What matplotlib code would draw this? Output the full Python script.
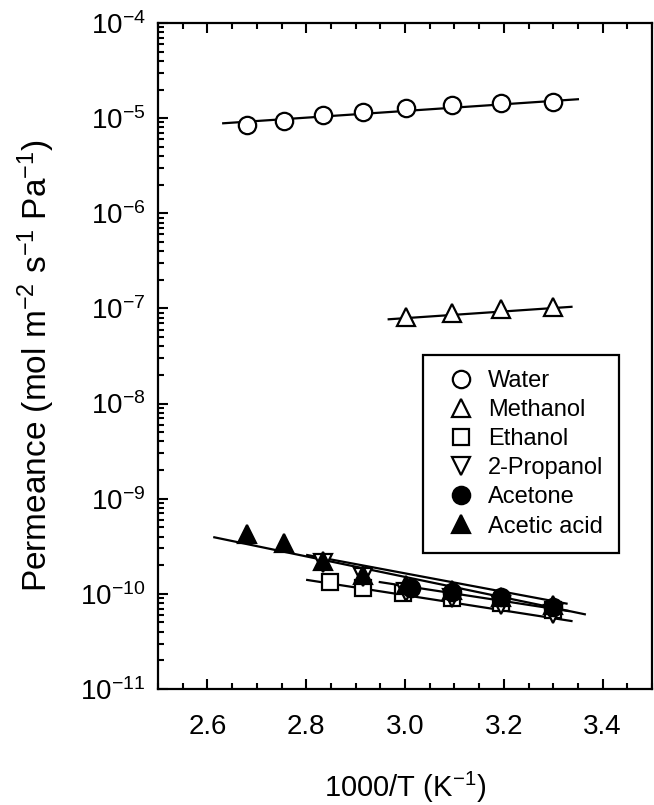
import matplotlib
matplotlib.use('Agg')
import matplotlib.pyplot as plt
import matplotlib.ticker as mticker
import numpy as np

plt.rcParams['font.family'] = ['Liberation Sans', 'DejaVu Sans']
plt.rcParams['mathtext.default'] = 'regular'
plt.rcParams['axes.unicode_minus'] = False

# dane (1000/T, permeancja)
x_water = [2.681, 2.755, 2.833, 2.915, 3.003, 3.096, 3.195, 3.300]
y_water = [8.5e-6, 9.4e-6, 1.08e-5, 1.17e-5, 1.27e-5, 1.37e-5, 1.45e-5, 1.49e-5]

x_meoh = [3.003, 3.096, 3.195, 3.300]
y_meoh = [8.2e-8, 8.9e-8, 9.8e-8, 1.04e-7]

x_etoh = [2.848, 2.915, 2.996, 3.096, 3.195, 3.300]
y_etoh = [1.32e-10, 1.14e-10, 1.01e-10, 9.0e-11, 8.0e-11, 6.8e-11]

x_ipa = [2.833, 2.915, 3.003, 3.096, 3.195, 3.300]
y_ipa = [2.11e-10, 1.50e-10, 1.04e-10, 9.0e-11, 7.6e-11, 6.1e-11]

x_acetone = [3.013, 3.096, 3.195, 3.300]
y_acetone = [1.14e-10, 1.05e-10, 9.3e-11, 7.3e-11]

x_acetic = [2.681, 2.755, 2.833, 2.915, 3.003, 3.096, 3.195, 3.300]
y_acetic = [4.28e-10, 3.40e-10, 2.21e-10, 1.58e-10, 1.24e-10, 1.10e-10, 9.27e-11, 7.64e-11]

# linie dopasowania (koncowe punkty)
fit_water_x, fit_water_y = [2.632, 3.350], [8.83e-6, 1.58e-5]
fit_meoh_x, fit_meoh_y = [2.967, 3.337], [7.69e-8, 1.04e-7]
fit_etoh_x, fit_etoh_y = [2.802, 3.337], [1.40e-10, 5.18e-11]
fit_ipa_x, fit_ipa_y = [2.802, 3.327], [2.56e-10, 7.9e-11]
fit_acetone_x, fit_acetone_y = [2.949, 3.331], [1.33e-10, 6.6e-11]
fit_acetic_x, fit_acetic_y = [2.614, 3.364], [3.93e-10, 6.1e-11]

W, H = 654, 805
fig = plt.figure(figsize=(W / 100, H / 100), dpi=100)
ax = fig.add_axes([158 / W, 1 - 689 / H, (652 - 158) / W, (689 - 23) / H])

lw = 1.6
for fx, fy in [(fit_water_x, fit_water_y), (fit_meoh_x, fit_meoh_y),
               (fit_etoh_x, fit_etoh_y), (fit_ipa_x, fit_ipa_y),
               (fit_acetone_x, fit_acetone_y), (fit_acetic_x, fit_acetic_y)]:
    ax.plot(fx, fy, color='black', linewidth=lw, zorder=2)

mk = dict(linestyle='none', markeredgecolor='black', markeredgewidth=1.6, zorder=3)
ax.plot(x_water, y_water, 'o', markersize=12.5, markerfacecolor='white', label='Water', **mk)
ax.plot(x_meoh, y_meoh, '^', markersize=12.5, markerfacecolor='white', label='Methanol', **mk)
ax.plot(x_etoh, y_etoh, 's', markersize=11, markerfacecolor='white', label='Ethanol', **mk)
ax.plot(x_ipa, y_ipa, 'v', markersize=12.5, markerfacecolor='white', label='2-Propanol', **mk)
ax.plot(x_acetone, y_acetone, 'o', markersize=12.5, markerfacecolor='black', label='Acetone', **mk)
ax.plot(x_acetic, y_acetic, '^', markersize=12.5, markerfacecolor='black', label='Acetic acid', **mk)

ax.set_yscale('log')
ax.set_ylim(1e-11, 1e-4)
ax.set_xlim(2.5, 3.5)
ax.set_xticks([2.6, 2.8, 3.0, 3.2, 3.4])
ax.xaxis.set_minor_locator(mticker.MultipleLocator(0.05))
ax.yaxis.set_major_locator(mticker.LogLocator(base=10, numticks=20))
ax.yaxis.set_minor_locator(mticker.LogLocator(base=10, subs=np.arange(2, 10), numticks=20))
ax.yaxis.set_minor_formatter(mticker.NullFormatter())

ax.tick_params(which='both', direction='in', top=True, right=False, width=1.5, labelsize=20)
ax.tick_params(which='major', length=7.5)
ax.tick_params(which='minor', length=4)
ax.tick_params(axis='x', pad=18)
ax.tick_params(axis='y', pad=9)
for s in ax.spines.values():
    s.set_linewidth(1.6)

ax.set_xlabel('1000/T (K$^{-1}$)', fontsize=21)
ax.set_ylabel('Permeance (mol m$^{-2}$ s$^{-1}$ Pa$^{-1}$)', fontsize=24)
ax.xaxis.set_label_coords(0.5, -0.121)
ax.yaxis.set_label_coords(-0.205, 0.486)

leg = ax.legend(loc='lower left', bbox_to_anchor=(0.536, 0.204), fontsize=17,
                frameon=True, fancybox=False, edgecolor='black', handlelength=1.95,
                handletextpad=0.15, labelspacing=0.3, borderpad=0.66, numpoints=1,
                borderaxespad=0)
leg.get_frame().set_linewidth(1.6)
leg.get_frame().set_alpha(1)

fig.savefig('out.png', dpi=100)
